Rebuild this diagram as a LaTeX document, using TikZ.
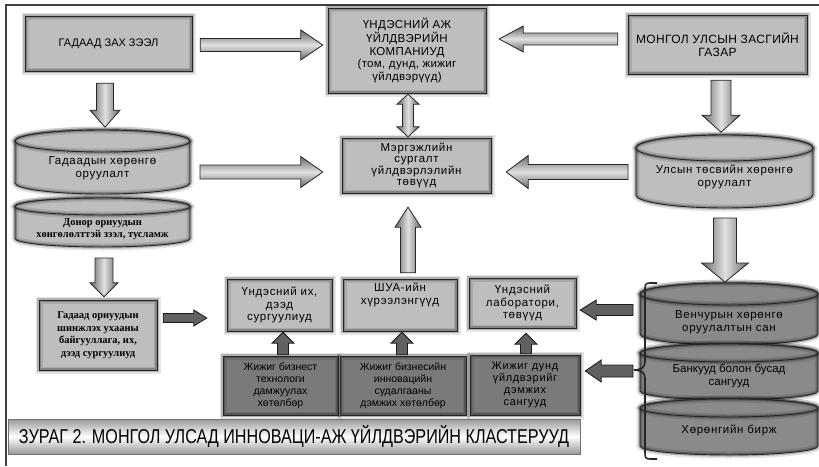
\documentclass[tikz,border=0pt]{standalone}
\usepackage{fontspec}
\setmainfont{Liberation Sans}
\newfontfamily\serifcyr{Liberation Serif}
\newfontfamily\spsans[LetterSpace=6]{Liberation Sans}
\newfontfamily\capsans[LetterSpace=3]{Liberation Sans}
\usetikzlibrary{calc}
\definecolor{lfill}{RGB}{190,190,190}
\definecolor{dfill}{RGB}{122,122,122}
\definecolor{cfill}{RGB}{138,138,138}
\tikzset{
  glow/.style={postaction={draw=black,draw opacity=0.10,line width=7pt},
               postaction={draw=black,draw opacity=0.22,line width=3.5pt},
               postaction={draw=black!85,line width=0.9pt}},
  txt/.style={align=center, inner sep=1pt, font=\fontsize{10.5}{12}\selectfont},
  sptxt/.style={align=center, inner sep=1pt, font=\spsans\fontsize{11.5}{12.5}\selectfont},
  captxt/.style={align=center, inner sep=1pt, font=\capsans\fontsize{11.5}{12.5}\selectfont},
  sertxt/.style={align=center, inner sep=1pt, font=\serifcyr\bfseries\fontsize{10.5}{12.5}\selectfont},
  lbox/.style={rectangle, fill=lfill, glow},
  dbox/.style={lbox, txt, fill=dfill},
  harr/.style={top color=black!60, bottom color=black!60, middle color=black!12, draw=black!85, line width=0.8pt},
  varr/.style={left color=black!60, right color=black!60, middle color=black!12, draw=black!85, line width=0.8pt},
  darr/.style={fill=black!62, draw=black!90, line width=0.8pt},
  bracestyle/.style={draw=black!85, line width=1.6pt},
  framestyle/.style={draw=black!75, line width=1.4pt},
}
% block arrow: #1 style, #2 tail, #3 tip, #4 shaft half width, #5 head half width, #6 head length
\newcommand\barrow[6][]{%
  \path (#2) coordinate (ta) (#3) coordinate (tb);
  \path ($(tb)!#6!(ta)$) coordinate (th);
  \path[#1] ($(ta)!#4!90:(tb)$) -- ($(th)!#4!90:(tb)$) -- ($(th)!#5!90:(tb)$) -- (tb)
    -- ($(th)!#5!-90:(tb)$) -- ($(th)!#4!-90:(tb)$) -- ($(ta)!#4!-90:(tb)$) -- cycle;
}
% double block arrow
\newcommand\dbarrow[6][]{%
  \path (#2) coordinate (ta) (#3) coordinate (tb);
  \path ($(tb)!#6!(ta)$) coordinate (th) ($(ta)!#6!(tb)$) coordinate (tt);
  \path[#1] (ta) -- ($(tt)!#5!-90:(ta)$) -- ($(tt)!#4!-90:(ta)$) -- ($(th)!#4!90:(tb)$) -- ($(th)!#5!90:(tb)$) -- (tb)
    -- ($(th)!#5!-90:(tb)$) -- ($(th)!#4!-90:(tb)$) -- ($(tt)!#4!90:(ta)$) -- ($(tt)!#5!90:(ta)$) -- cycle;
}
% cylinder: #1 cx, #2 rx, #3 y top, #4 y bottom, #5 ry, #6 fill
\newcommand\cylshape[6]{%
  \path[fill=#6, glow] (#1-#2,#3+#5) -- (#1-#2,#4-#5)
    arc[start angle=180,end angle=360,x radius=#2pt,y radius=#5pt]
    -- (#1+#2,#3+#5) arc[start angle=0,end angle=180,x radius=#2pt,y radius=#5pt] -- cycle;
  \path[fill=#6, glow] (#1,#3+#5) ellipse[x radius=#2pt, y radius=#5pt];
}
\begin{document}
\begin{tikzpicture}[x=1pt,y=-1pt]
\useasboundingbox (0,0) rectangle (819,466);
\fill[white] (0,0) rectangle (819,466);
% frame
\draw[framestyle] (6,466) -- (6,5) -- (819,5);

% top row boxes
\node[lbox, txt, minimum width=167pt, minimum height=55pt, font=\fontsize{11}{12}\selectfont] (gz) at (108.5,43.5) {ГАДААД ЗАХ ЗЭЭЛ};
\node[lbox, captxt, minimum width=158pt, minimum height=85pt] (ak) at (407,50.5)
  {ҮНДЭСНИЙ АЖ\\ҮЙЛДВЭРИЙН\\КОМПАНИУД\\(том, дунд, жижиг\\үйлдвэрүүд)};
\node[lbox, captxt, minimum width=179pt, minimum height=59pt, font=\capsans\fontsize{12}{13}\selectfont] (mg) at (717.5,44.5) {МОНГОЛ УЛСЫН ЗАСГИЙН\\ГАЗАР};

% left cylinders
\cylshape{102.5}{87.5}{130}{194}{11}{lfill}
\cylshape{102.5}{87.5}{198}{247}{8.5}{lfill}
\node[sptxt] (gh) at (102.5,168) {Гадаадын хөрөнгө\\оруулалт};
\node[sertxt] (dn) at (102.5,229) {Донор орнуудын\\хөнгөлөлттэй зээл, тусламж};
\coordinate (lce) at (190,168);
\coordinate (lcb) at (102.5,247);

% right top cylinder
\cylshape{724.5}{88.5}{135}{208}{13}{lfill}
\node[sptxt] (ut) at (724.5,177) {Улсын төсвийн хөрөнгө\\оруулалт};
\coordinate (rcw) at (636,172);
\coordinate (rcs) at (724.5,208);

% centre box
\node[lbox, sptxt, minimum width=149pt, minimum height=55pt, font=\spsans\fontsize{11.5}{11.5}\selectfont] (ms) at (416.5,165.5)
  {Мэргэжлийн\\сургалт\\үйлдвэрлэлийн\\төвүүд};

% right stack
\cylshape{729}{89}{283}{345}{11}{cfill}
\cylshape{729}{89}{344}{400}{9}{cfill}
\cylshape{729}{89}{399}{455}{9}{cfill}
\node[sptxt] (vc) at (729,322) {Венчурын хөрөнгө\\оруулалтын сан};
\node[sptxt, font=\fontsize{11.5}{12.5}\selectfont] (bk) at (729,376) {Банкууд болон бусад\\сангууд};
\node[sptxt] (hb) at (729,430) {Хөрөнгийн бирж};
\coordinate (stn) at (729,283);

% brace
\draw[bracestyle] (657,283) -- (650,283) .. controls (645,283) and (645,285) .. (645,290)
  -- (645,362) .. controls (645,368) and (640,370) .. (634,370)
  .. controls (640,370) and (645,372) .. (645,378)
  -- (645,452) .. controls (645,457) and (645,459) .. (650,459) -- (657,459);
\coordinate (brtip) at (634,370);
\coordinate (br1) at (643,310);

% middle row
\node[lbox, sptxt, minimum width=105pt, minimum height=52pt] (uih) at (279.5,305) {Үндэсний их,\\дээд\\сургуулиуд};
\node[lbox, sptxt, minimum width=114pt, minimum height=52pt] (shua) at (400,305) {ШУА-ийн\\хүрээлэнгүүд\\[10pt]};
\node[lbox, sptxt, minimum width=107pt, minimum height=50pt] (ulab) at (522.5,303) {Үндэсний\\лаборатори,\\төвүүд};

% bottom row
\node[dbox, minimum width=115pt, minimum height=59pt] (d1) at (280.5,385.5) {Жижиг бизнест\\технологи\\дамжуулах\\хөтөлбөр};
\node[dbox, minimum width=126pt, minimum height=59pt] (d2) at (403,385.5) {Жижиг бизнесийн\\инновацийн\\судалгааны\\дэмжих хөтөлбөр};
\node[dbox, minimum width=110pt, minimum height=60pt, font=\spsans\fontsize{11}{12}\selectfont] (d3) at (525,385) {Жижиг дунд\\үйлдвэрийг\\дэмжих\\сангууд};

% left bottom box
\node[lbox, sertxt, minimum width=118pt, minimum height=70pt] (go) at (98,335)
  {Гадаад орнуудын\\шинжлэх ухааны\\байгууллага, их,\\дээд сургуулиуд};

% caption
\node[rectangle, minimum width=572pt, minimum height=35pt, top color=black!40, bottom color=black!40, middle color=white,
      draw=black!55, line width=0.6pt, inner sep=0pt] (cap) at (294,436.5)
  {\resizebox{550pt}{\height}{\fontsize{20}{20}\selectfont ЗУРАГ 2. МОНГОЛ УЛСАД ИННОВАЦИ-АЖ ҮЙЛДВЭРИЙН КЛАСТЕРУУД}};

% big arrows
\barrow[harr]{$(gz.east)+(8,1.5)$}{$(ak.west)+(-5,-5.5)$}{6.5pt}{15pt}{22pt}
\barrow[harr]{$(mg.west)+(-10,-5.5)$}{$(ak.east)+(13,-11.5)$}{6pt}{13pt}{24pt}
\barrow[varr]{$(gz.south)+(-3.5,12)$}{$(gz.south)+(-3.5,56)$}{8.5pt}{15pt}{17pt}
\barrow[varr]{$(mg.south)+(3.5,6)$}{$(mg.south)+(3.5,58)$}{10pt}{19pt}{17pt}
\dbarrow[varr]{$(ak.south)+(1,1)$}{$(ms.north)+(-8.5,-1)$}{5.5pt}{11pt}{10pt}
\barrow[harr]{$(lce)+(10,4)$}{$(ms.west)+(-19,6.5)$}{7pt}{15.5pt}{22pt}
\barrow[harr]{$(rcw)+(-8,0)$}{$(ms.east)+(15,6.5)$}{7.5pt}{16.5pt}{22pt}
\barrow[varr]{$(rcs)+(0.5,10)$}{$(stn)+(-4,-1)$}{11.5pt}{23.5pt}{19pt}
\barrow[varr]{$(shua.north)+(8,-6)$}{$(ms.south)+(-8.5,14)$}{7.5pt}{13pt}{20pt}
\barrow[varr]{$(lcb)+(1.5,11)$}{$(go.north)+(6,-3)$}{9pt}{14pt}{14pt}

% small dark arrows
\barrow[darr]{$(go.east)+(6,-17)$}{$(uih.west)+(-20,13)$}{4.5pt}{8pt}{13pt}
\barrow[darr]{$(d1.north)+(2.5,-1)$}{$(uih.south)+(3.5,1)$}{5.5pt}{11pt}{11pt}
\barrow[darr]{$(d2.north)+(-1,-1)$}{$(shua.south)+(2,1)$}{5.5pt}{11pt}{11pt}
\barrow[darr]{$(d3.north)+(1,-1)$}{$(ulab.south)+(3.5,5)$}{5.5pt}{11pt}{11pt}
\barrow[darr]{$(br1)+(-10,0)$}{$(ulab.east)+(4,7)$}{5.5pt}{10pt}{16pt}
\barrow[darr]{$(brtip)+(-1,1)$}{$(d3.east)+(5,-14)$}{6pt}{11pt}{16pt}
\end{tikzpicture}
\end{document}
